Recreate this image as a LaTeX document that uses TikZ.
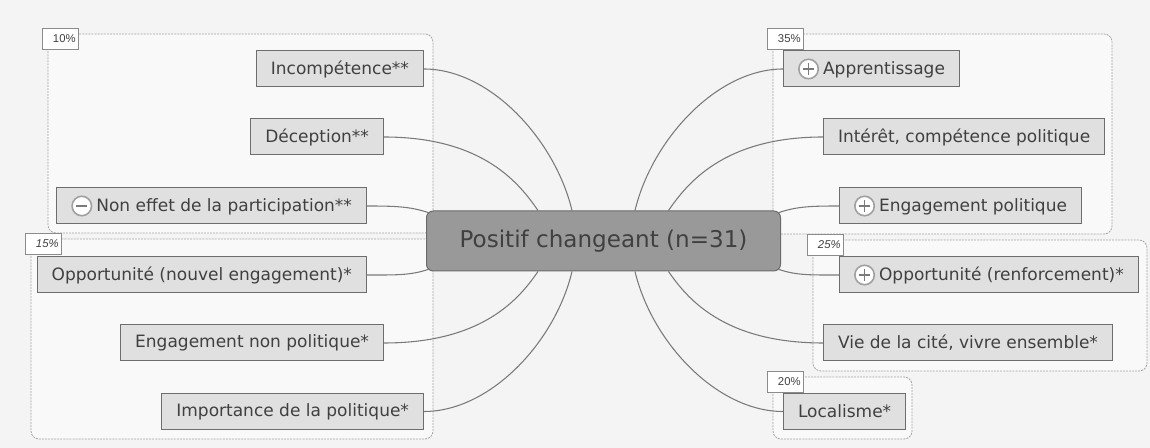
\documentclass[tikz,border=0pt]{standalone}
\usepackage{fontspec}
\setmainfont{DejaVu Sans}
\newfontfamily\pctfont{Liberation Sans}
\usetikzlibrary{calc,backgrounds}

\definecolor{pagebg}{HTML}{F4F4F4}
\definecolor{zonebg}{HTML}{F9F9F9}
\definecolor{zoneline}{HTML}{A4A4A4}
\definecolor{boxfill}{HTML}{E0E0E0}
\definecolor{boxline}{HTML}{6E6E6E}
\definecolor{hubfill}{HTML}{999999}
\definecolor{hubline}{HTML}{6A6A6A}
\definecolor{inktext}{HTML}{404040}
\definecolor{linkline}{HTML}{7A7A7A}
\definecolor{iconring}{HTML}{A0A0A0}
\definecolor{iconsign}{HTML}{7A7A7A}

\newcommand{\iconplus}{\tikz[baseline=-4.4pt]{%
  \draw[line width=1.2pt, draw=iconring, fill=white] (0pt,0pt) circle (7.3pt);
  \draw[line width=0.9pt, draw=iconsign] (-4.2pt,0pt) -- (4.2pt,0pt) (0pt,-4.2pt) -- (0pt,4.2pt);}}
\newcommand{\iconminus}{\tikz[baseline=-4.4pt]{%
  \draw[line width=1.2pt, draw=iconring, fill=white] (0pt,0pt) circle (7.3pt);
  \draw[line width=0.9pt, draw=iconsign] (-4.2pt,0pt) -- (4.2pt,0pt);}}

\begin{document}
\begin{tikzpicture}[x=0.75pt, y=-0.75pt,
  topic/.style={draw=boxline, line width=0.75pt, fill=boxfill, text=inktext,
    font=\fontsize{12.75}{15}\selectfont, minimum height=27pt, inner xsep=10.9pt, inner ysep=0pt},
  central/.style={draw=hubline, line width=0.75pt, fill=hubfill, text=inktext, rounded corners=5pt,
    font=\fontsize{17.3}{20}\selectfont, minimum width=265.5pt, minimum height=45pt},
  zone/.style={draw=zoneline, fill=zonebg, line width=0.6pt, dash pattern=on 1.5pt off 0.8pt, rounded corners=6pt},
  share/.style={draw=boxline!80, line width=0.5pt, fill=white, text=inktext, anchor=north west,
    font=\pctfont\fontsize{8.5}{10}\selectfont, text width=23pt, align=right,
    inner xsep=2pt, inner ysep=0pt, minimum height=15.75pt},
  branch/.style={draw=linkline, line width=0.8pt}]
  \useasboundingbox (0,0) rectangle (1150,448);

  % central topic
  \node[central] (c) at (603.5,241) {Positif changeant (n=31)};

  % left branches
  \node[topic, anchor=east] (inc)  at (424,69)    {Incompétence**};
  \node[topic, anchor=east] (dec)  at (384,137)   {Déception**};
  \node[topic, anchor=east] (non)  at (367,206)   {\iconminus\hspace{3pt}Non effet de la participation**};
  \node[topic, anchor=east] (oppn) at (367,275)   {Opportunité (nouvel engagement)*};
  \node[topic, anchor=east] (engn) at (384,343)   {Engagement non politique*};
  \node[topic, anchor=east] (imp)  at (424,411.5) {Importance de la politique*};

  % right branches
  \node[topic, anchor=west] (app)  at (783,69)    {\iconplus\hspace{3pt}Apprentissage};
  \node[topic, anchor=west] (int)  at (823,137)   {Intérêt, compétence politique};
  \node[topic, anchor=west] (engp) at (839,206)   {\iconplus\hspace{3pt}Engagement politique};
  \node[topic, anchor=west] (oppr) at (839,275)   {\iconplus\hspace{3pt}Opportunité (renforcement)*};
  \node[topic, anchor=west] (vie)  at (823,343)   {Vie de la cité, vivre ensemble*};
  \node[topic, anchor=west] (loc)  at (783,411.5) {Localisme*};

  % percentage tags
  \node[share] (s10) at (42,28)   {10\%};
  \node[share] (s15) at (25,233)  {\textit{15\%}};
  \node[share] (s35) at (767,28)  {35\%};
  \node[share] (s25) at (807,234) {\textit{25\%}};
  \node[share] (s20) at (767,371) {20\%};

  \begin{scope}[on background layer]
    \fill[pagebg] (0,0) rectangle (1150,448);
    % boundaries
    \draw[zone] (48,34) rectangle (433,233);
    \draw[zone] (31,239) rectangle (433,439);
    \draw[zone] (773,34) rectangle (1112,234);
    \draw[zone] (813,240) rectangle (1147,371);
    \draw[zone] (773,377) rectangle (912,439);
    % curved connectors
    \draw[branch] ($(c.north)+(-31.5,0)$) .. controls +(-17,-71) and +(66,0) .. (inc.east);
    \draw[branch] ($(c.north)+(-65.5,0)$) .. controls +(-18,-26) and +(100,0) .. (dec.east);
    \draw[branch] ($(c.north west)+(2,2)$) .. controls +(-18,-6) and +(28,0) .. (non.east);
    \draw[branch] ($(c.south west)+(2,-2)$) .. controls +(-18,6) and +(28,0) .. (oppn.east);
    \draw[branch] ($(c.south)+(-65.5,0)$) .. controls +(-18,26) and +(100,0) .. (engn.east);
    \draw[branch] ($(c.south)+(-31.5,0)$) .. controls +(-17,71) and +(66,0) .. (imp.east);
    \draw[branch] ($(c.north)+(31.5,0)$) .. controls +(17,-71) and +(-66,0) .. (app.west);
    \draw[branch] ($(c.north)+(65,0)$) .. controls +(18,-26) and +(-100,0) .. (int.west);
    \draw[branch] ($(c.north east)+(-2,2)$) .. controls +(18,-6) and +(-28,0) .. (engp.west);
    \draw[branch] ($(c.south east)+(-2,-2)$) .. controls +(18,6) and +(-28,0) .. (oppr.west);
    \draw[branch] ($(c.south)+(65,0)$) .. controls +(18,26) and +(-100,0) .. (vie.west);
    \draw[branch] ($(c.south)+(31.5,0)$) .. controls +(17,71) and +(-66,0) .. (loc.west);
  \end{scope}
\end{tikzpicture}
\end{document}
